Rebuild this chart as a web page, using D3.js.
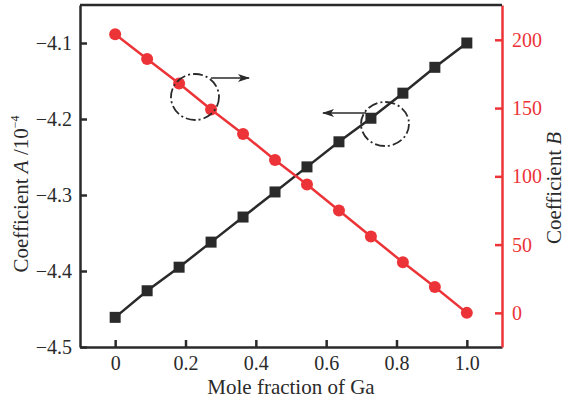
<!DOCTYPE html>
<html>
<head>
<meta charset="utf-8">
<script src="https://cdn.jsdelivr.net/npm/d3@7"></script>
<style>
  body { margin: 0; background: #fff; }
  svg { display: block; font-family: "Liberation Serif", "DejaVu Serif", serif; }
</style>
</head>
<body>
<div id="chart"></div>
<script>
const svgWidth = 567;
const svgHeight = 403;
const margin = { top: 5, right: 65, bottom: 56, left: 80 };

const moleFraction = [0, 1 / 11, 2 / 11, 3 / 11, 4 / 11, 5 / 11, 6 / 11, 7 / 11, 8 / 11, 9 / 11, 10 / 11, 1];
const coeffA = [-4.461, -4.426, -4.395, -4.362, -4.329, -4.296, -4.263, -4.23, -4.199, -4.166, -4.132, -4.1];
const coeffB = [204, 186, 168, 149, 131, 112, 94, 75, 56, 37, 19, 0];
const xTicks = [0, 0.2, 0.4, 0.6, 0.8, 1.0];
const aTicks = [-4.5, -4.4, -4.3, -4.2, -4.1];
const bTicks = [0, 50, 100, 150, 200];

const black = "#2a2a2a";
const red = "#ec3438";

const plotWidth = svgWidth - margin.left - margin.right;
const plotHeight = svgHeight - margin.top - margin.bottom;

const svg = d3.select("#chart")
  .append("svg")
  .attr("width", svgWidth)
  .attr("height", svgHeight);

const plot = svg.append("g").attr("transform", `translate(${margin.left},${margin.top})`);

const xScale = d3.scaleLinear().domain([-0.1, 1.1]).range([0, plotWidth]);
const yA = d3.scaleLinear().domain([-4.5, -4.05]).range([plotHeight, 0]);
const yB = d3.scaleLinear().domain([-25, 225.5]).range([plotHeight, 0]);

const fmtX = (d) => (d === 0 ? "0" : d3.format(".1f")(d));
const fmtA = (d) => d3.format(".1f")(d).replace("-", "\u2212");

// axes
const xAxis = plot.append("g")
  .attr("transform", `translate(0,${plotHeight})`)
  .call(d3.axisBottom(xScale).tickValues(xTicks).tickFormat(fmtX).tickSizeInner(-7).tickSizeOuter(0).tickPadding(9));

const leftAxis = plot.append("g")
  .call(d3.axisLeft(yA).tickValues(aTicks).tickFormat(fmtA).tickSizeInner(-7).tickSizeOuter(0).tickPadding(8));

const rightAxis = plot.append("g")
  .attr("transform", `translate(${plotWidth},0)`)
  .call(d3.axisRight(yB).tickValues(bTicks).tickSizeInner(-7).tickSizeOuter(0).tickPadding(10));

[xAxis, leftAxis].forEach((g) => {
  g.selectAll("path, line").attr("stroke", black).attr("stroke-width", 2.5);
  g.selectAll("text").attr("fill", black).attr("font-size", "20px").attr("font-family", "Liberation Serif");
});
rightAxis.selectAll("path, line").attr("stroke", red).attr("stroke-width", 2.5);
rightAxis.selectAll("text").attr("fill", red).attr("font-size", "20px").attr("font-family", "Liberation Serif");

// top frame
plot.append("line")
  .attr("x1", 0).attr("x2", plotWidth).attr("y1", 0).attr("y2", 0)
  .attr("stroke", black).attr("stroke-width", 2.5);

// series A
const lineA = d3.line().x((d, i) => xScale(moleFraction[i])).y((d) => yA(d));
plot.append("path").datum(coeffA)
  .attr("d", lineA).attr("fill", "none").attr("stroke", black).attr("stroke-width", 2.5);
plot.selectAll("rect.pt").data(coeffA).join("rect")
  .attr("class", "pt")
  .attr("x", (d, i) => xScale(moleFraction[i]) - 5.5)
  .attr("y", (d) => yA(d) - 5.5)
  .attr("width", 11).attr("height", 11)
  .attr("fill", black);

// series B
const lineB = d3.line().x((d, i) => xScale(moleFraction[i])).y((d) => yB(d));
plot.append("path").datum(coeffB)
  .attr("d", lineB).attr("fill", "none").attr("stroke", red).attr("stroke-width", 2.5);
plot.selectAll("circle.pt").data(coeffB).join("circle")
  .attr("class", "pt")
  .attr("cx", (d, i) => xScale(moleFraction[i]))
  .attr("cy", (d) => yB(d))
  .attr("r", 6)
  .attr("fill", red);

// annotations: dash-dot circles with arrows
const defs = svg.append("defs");
defs.append("marker")
  .attr("id", "arrow")
  .attr("viewBox", "0 0 12 10")
  .attr("refX", 11).attr("refY", 5)
  .attr("markerWidth", 13).attr("markerHeight", 10)
  .attr("markerUnits", "userSpaceOnUse")
  .attr("orient", "auto")
  .append("path")
  .attr("d", "M0,1 L12,5 L0,9 L3,5 Z")
  .attr("fill", black);

function annotate(cx, cy, rx, ry, x1, x2, ay) {
  svg.append("ellipse")
    .attr("cx", cx).attr("cy", cy).attr("rx", rx).attr("ry", ry)
    .attr("fill", "none").attr("stroke", black).attr("stroke-width", 1.8)
    .attr("stroke-dasharray", "10,3,2,3");
  svg.append("line")
    .attr("x1", x1).attr("x2", x2).attr("y1", ay).attr("y2", ay)
    .attr("stroke", black).attr("stroke-width", 1.6)
    .attr("marker-end", "url(#arrow)");
}
annotate(195, 97, 24, 23, 211, 249, 78);
annotate(385, 124, 24, 22, 366, 323, 113);

// axis titles
svg.append("text")
  .attr("x", margin.left + xScale(0.5))
  .attr("y", 394)
  .attr("text-anchor", "middle")
  .attr("font-size", "21px")
  .attr("fill", black)
  .text("Mole fraction of Ga");

const leftTitle = svg.append("text")
  .attr("transform", "translate(28,194) rotate(-90)")
  .attr("text-anchor", "middle")
  .attr("font-size", "21px")
  .attr("fill", black);
leftTitle.append("tspan").text("Coefficient ");
leftTitle.append("tspan").attr("font-style", "italic").text("A");
leftTitle.append("tspan").text(" /10");
leftTitle.append("tspan").attr("font-size", "12px").attr("dy", -9).text("\u22124");

const rightTitle = svg.append("text")
  .attr("transform", "translate(561,188) rotate(-90)")
  .attr("text-anchor", "middle")
  .attr("font-size", "21px")
  .attr("fill", black);
rightTitle.append("tspan").text("Coefficient ");
rightTitle.append("tspan").attr("font-style", "italic").text("B");
</script>
</body>
</html>
